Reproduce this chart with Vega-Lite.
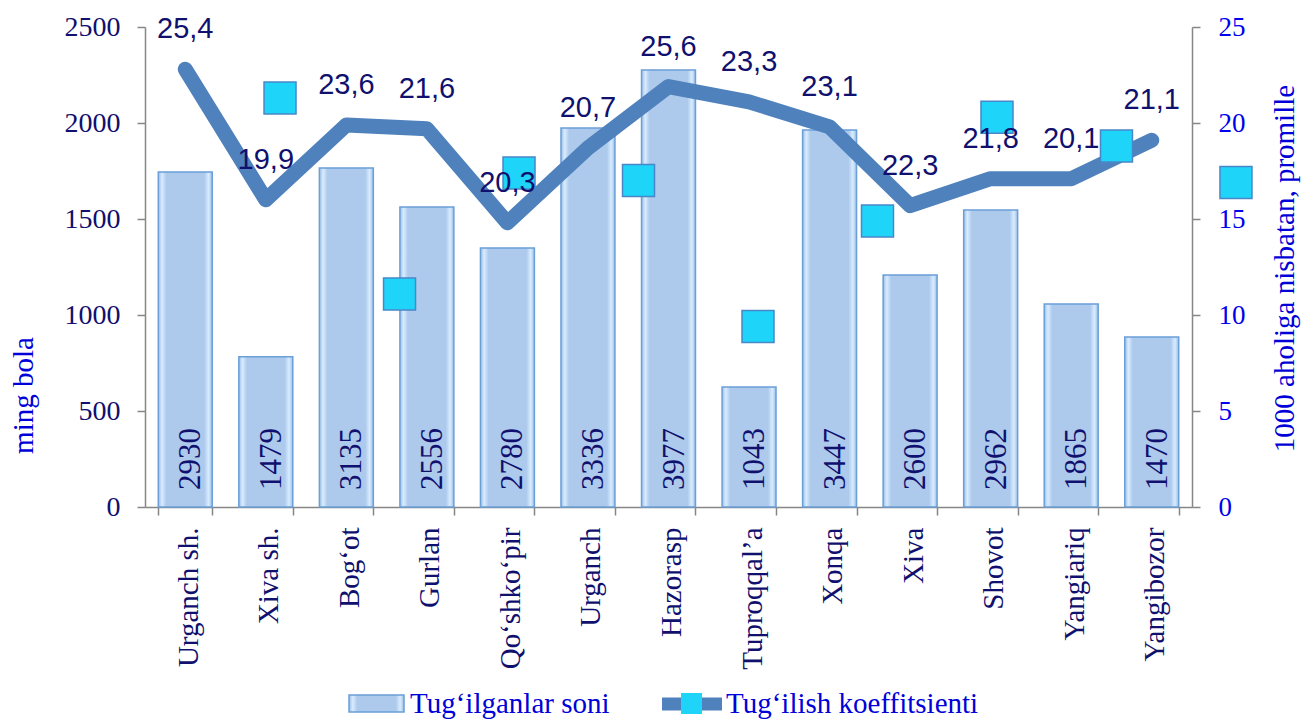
{
  "$schema": "https://vega.github.io/schema/vega-lite/v6.json",
  "width": 1047,
  "height": 480,
  "autosize": {"type": "none"},
  "padding": {"left": 145, "top": 27, "right": 109, "bottom": 213},
  "background": "white",
  "config": {
    "view": {"stroke": null},
    "axis": {"grid": false, "domainColor": "#868686", "tickColor": "#868686", "domainWidth": 1.5, "tickWidth": 1.5, "tickSize": 8}
  },
  "datasets": {
    "d": [
      {"cat": "Urganch sh.", "births": 1745, "blabel": "2930", "rate": 22.8, "rlabel": "25,4"},
      {"cat": "Xiva sh.", "births": 783, "blabel": "1479", "rate": 16.0, "rlabel": "19,9"},
      {"cat": "Bog‘ot", "births": 1766, "blabel": "3135", "rate": 19.9, "rlabel": "23,6"},
      {"cat": "Gurlan", "births": 1563, "blabel": "2556", "rate": 19.7, "rlabel": "21,6"},
      {"cat": "Qo‘shko‘pir", "births": 1349, "blabel": "2780", "rate": 14.8, "rlabel": "20,3"},
      {"cat": "Urganch", "births": 1974, "blabel": "3336", "rate": 18.7, "rlabel": "20,7"},
      {"cat": "Hazorasp", "births": 2276, "blabel": "3977", "rate": 21.9, "rlabel": "25,6"},
      {"cat": "Tuproqqal’a", "births": 625, "blabel": "1043", "rate": 21.1, "rlabel": "23,3"},
      {"cat": "Xonqa", "births": 1964, "blabel": "3447", "rate": 19.8, "rlabel": "23,1"},
      {"cat": "Xiva", "births": 1208, "blabel": "2600", "rate": 15.7, "rlabel": "22,3"},
      {"cat": "Shovot", "births": 1547, "blabel": "2962", "rate": 17.1, "rlabel": "21,8"},
      {"cat": "Yangiariq", "births": 1057, "blabel": "1865", "rate": 17.1, "rlabel": "20,1"},
      {"cat": "Yangibozor", "births": 885, "blabel": "1470", "rate": 19.1, "rlabel": "21,1"}
    ],
    "m": [
      {"n": 1, "v": 21.3},
      {"n": 2, "v": 11.1},
      {"n": 3, "v": 17.4},
      {"n": 4, "v": 17.0},
      {"n": 5, "v": 9.4},
      {"n": 6, "v": 14.9},
      {"n": 7, "v": 20.3},
      {"n": 8, "v": 18.8},
      {"n": 9, "v": 16.9}
    ]
  },
  "resolve": {"scale": {"x": "independent", "y": "independent"}},
  "layer": [
    {
      "data": {"name": "d"},
      "encoding": {
        "x": {
          "field": "cat", "type": "nominal", "sort": null,
          "scale": {"paddingInner": 0.33, "paddingOuter": 0.165},
          "axis": {"title": null, "labelAngle": -90, "labelFont": "Liberation Serif", "labelFontSize": 29, "labelColor": "#10106E", "labelPadding": 12, "labelOffset": 3, "tickBand": "extent", "labelLimit": 300}
        },
        "y": {
          "field": "births", "type": "quantitative",
          "scale": {"domain": [0, 2500], "nice": false},
          "axis": {"orient": "left", "values": [0, 500, 1000, 1500, 2000, 2500], "format": "d", "labelFont": "Liberation Serif", "labelFontSize": 28, "labelColor": "#10106E", "labelPadding": 17,
                   "title": "ming bola", "titleFont": "Liberation Serif", "titleFontSize": 29, "titleFontWeight": "normal", "titleColor": "#0000D8", "titleAngle": 270, "titleX": -113, "titleY": 368, "titleBaseline": "alphabetic", "titleAlign": "center"}
        }
      },
      "layer": [
        {
          "mark": {
            "type": "bar", "strokeWidth": 1.5,
            "fill": {"gradient": "linear", "x1": 0, "y1": 0, "x2": 1, "y2": 0, "stops": [
              {"offset": 0, "color": "#9EBFE8"},
              {"offset": 0.07, "color": "#D8ECFE"},
              {"offset": 0.15, "color": "#ADC9EC"},
              {"offset": 0.85, "color": "#ADC9EC"},
              {"offset": 0.93, "color": "#D8ECFE"},
              {"offset": 1, "color": "#9EBFE8"}
            ]}
          },
          "encoding": {
            "stroke": {
              "datum": "Tug‘ilganlar soni",
              "scale": {"range": ["#6A9FD8"]},
              "legend": {
                "orient": "none", "legendX": 203, "legendY": 648, "title": null, "padding": 0,
                "symbolType": "M-1,-0.31H1V0.31H-1Z", "symbolSize": 3025, "symbolFillColor": "#ABC8EC", "symbolStrokeWidth": 1.5, "symbolOpacity": 1,
                "labelFont": "Liberation Serif", "labelFontSize": 29, "labelColor": "#0000D8", "labelLimit": 600, "labelOffset": 5
              }
            }
          }
        },
        {
          "mark": {"type": "text", "angle": 270, "align": "left", "baseline": "alphabetic", "dx": 17, "dy": 15, "font": "Liberation Serif", "fontSize": 31, "fill": "#10106E"},
          "encoding": {"y": {"datum": 0, "type": "quantitative"}, "text": {"field": "blabel"}}
        }
      ]
    },
    {
      "data": {"name": "d"},
      "mark": {"type": "line", "strokeWidth": 15, "strokeCap": "round", "strokeJoin": "round"},
      "encoding": {
        "x": {"field": "cat", "type": "nominal", "sort": null, "scale": {"type": "point", "padding": 0.5}, "axis": null},
        "y": {
          "field": "rate", "type": "quantitative",
          "scale": {"domain": [0, 25], "nice": false},
          "axis": {"orient": "right", "values": [0, 5, 10, 15, 20, 25], "labelFont": "Liberation Serif", "labelFontSize": 27, "labelColor": "#0000EE", "labelPadding": 18,
                   "title": "1000 aholiga nisbatan, promille", "titleFont": "Liberation Serif", "titleFontSize": 29, "titleFontWeight": "normal", "titleColor": "#0000D8", "titleAngle": 270, "titleX": 101, "titleY": 241, "titleBaseline": "alphabetic", "titleAlign": "center"}
        },
        "color": {
          "datum": "Tug‘ilish koeffitsienti",
          "scale": {"range": ["#4F81BD"]},
          "legend": {
            "orient": "none", "legendX": 513, "legendY": 643, "title": null, "padding": 0,
            "symbolType": "M-1.09,0H1.09", "symbolSize": 3025, "symbolStrokeWidth": 13, "symbolOpacity": 1,
            "labelFont": "Liberation Serif", "labelFontSize": 29, "labelColor": "#0000D8", "labelLimit": 600, "labelOffset": 0
          }
        }
      }
    },
    {
      "data": {"name": "m"},
      "mark": {"type": "point", "filled": true, "fill": "#1ED4F8", "stroke": "#4A86C8", "strokeWidth": 1.5, "size": 1024, "opacity": 1},
      "encoding": {
        "x": {"field": "n", "type": "quantitative", "scale": {"domain": [-0.13, 8.632], "nice": false, "zero": false}, "axis": null},
        "y": {"field": "v", "type": "quantitative", "scale": {"domain": [0, 25], "nice": false}, "axis": null},
        "shape": {
          "datum": "k",
          "scale": {"range": ["square"]},
          "legend": {"orient": "none", "legendX": 535, "legendY": 665, "zindex": 2, "title": null, "padding": 0, "symbolSize": 441, "symbolFillColor": "#1ED4F8", "symbolStrokeColor": "#4A86C8", "symbolStrokeWidth": 1.5, "symbolOpacity": 1, "labelExpr": "''", "labelFontSize": 1, "labelOffset": 0}
        }
      }
    },
    {
      "data": {"name": "d"},
      "mark": {"type": "text", "font": "Liberation Sans", "fontSize": 29, "fill": "#10106E", "dy": -40, "baseline": "middle"},
      "encoding": {
        "x": {"field": "cat", "type": "nominal", "sort": null, "scale": {"type": "point", "padding": 0.5}, "axis": null},
        "y": {"field": "rate", "type": "quantitative", "scale": {"domain": [0, 25], "nice": false}, "axis": null},
        "text": {"field": "rlabel"}
      }
    }
  ]
}
